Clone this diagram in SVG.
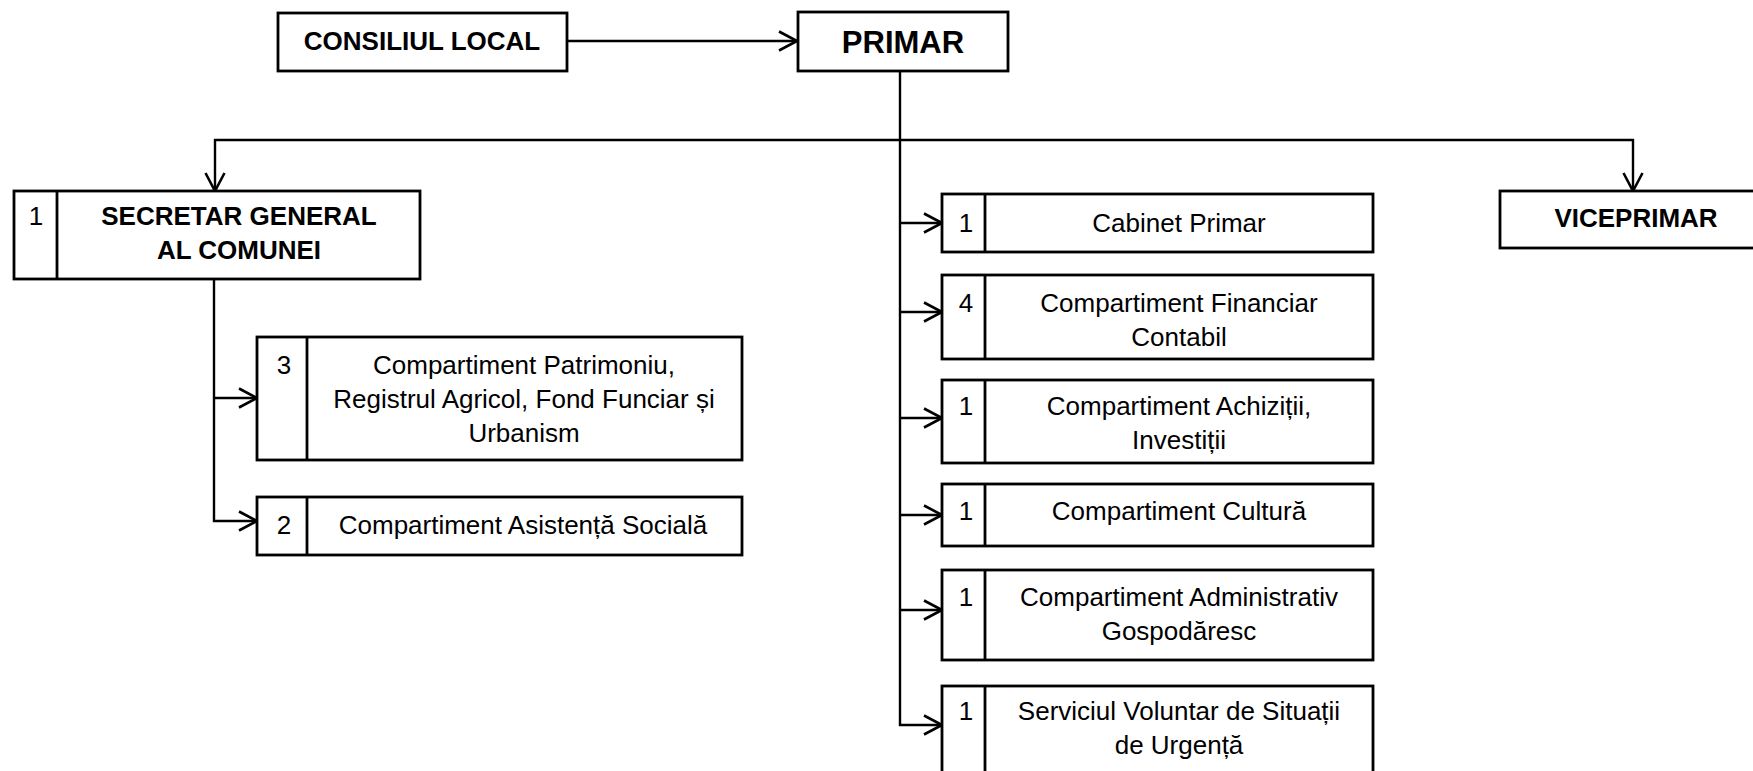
<svg xmlns="http://www.w3.org/2000/svg" width="1753" height="771" viewBox="0 0 1753 771">
<style>
.box{fill:#fff;stroke:#000;stroke-width:2.8}
.div{stroke:#000;stroke-width:2.8}
.t{font-family:"Liberation Sans",Arial,sans-serif;font-size:26px;fill:#000;text-anchor:middle}
.b{font-weight:bold}
.big{font-size:31px}
.c{fill:none;stroke:#000;stroke-width:2.4}
</style>
<defs>
<marker id="ar" viewBox="0 0 20 22" refX="19" refY="11" markerWidth="20" markerHeight="22" markerUnits="userSpaceOnUse" orient="auto">
<path d="M1,1.5 L19,11 L1,20.5" fill="none" stroke="#000" stroke-width="2.6"/>
</marker>
</defs>
<rect width="1753" height="771" fill="#fff"/>
<g id="connectors">
<path class="c" d="M567,41 H797" marker-end="url(#ar)"/>
<path class="c" d="M900,71 V725 H942" marker-end="url(#ar)"/>
<path class="c" d="M900,223 H942" marker-end="url(#ar)"/>
<path class="c" d="M900,312 H942" marker-end="url(#ar)"/>
<path class="c" d="M900,418 H942" marker-end="url(#ar)"/>
<path class="c" d="M900,515 H942" marker-end="url(#ar)"/>
<path class="c" d="M900,610 H942" marker-end="url(#ar)"/>
<path class="c" d="M900,140 H215 V191" marker-end="url(#ar)"/>
<path class="c" d="M900,140 H1633 V191" marker-end="url(#ar)"/>
<path class="c" d="M214,279 V521 H257" marker-end="url(#ar)"/>
<path class="c" d="M214,398 H257" marker-end="url(#ar)"/>
</g>
<g id="consiliul">
<rect class="box" x="278" y="13" width="289" height="58"/>
<text class="t b" x="422" y="50">CONSILIUL LOCAL</text>
</g>
<g id="primar">
<rect class="box" x="798" y="12" width="210" height="59"/>
<text class="t b big" x="903" y="53">PRIMAR</text>
</g>
<g id="secretar">
<rect class="box" x="14" y="191" width="406" height="88"/>
<line class="div" x1="57" y1="191" x2="57" y2="279"/>
<text class="t" x="36" y="225">1</text>
<text class="t b" x="239" y="225">SECRETAR GENERAL</text>
<text class="t b" x="239" y="259">AL COMUNEI</text>
</g>
<g id="viceprimar">
<rect class="box" x="1500" y="191" width="290" height="57"/>
<text class="t b" x="1636" y="227">VICEPRIMAR</text>
</g>
<g id="patrimoniu">
<rect class="box" x="257" y="337" width="485" height="123"/>
<line class="div" x1="307" y1="337" x2="307" y2="460"/>
<text class="t" x="284" y="374">3</text>
<text class="t" x="524" y="374">Compartiment Patrimoniu,</text>
<text class="t" x="524" y="408">Registrul Agricol, Fond Funciar și</text>
<text class="t" x="524" y="442">Urbanism</text>
</g>
<g id="asistenta">
<rect class="box" x="257" y="497" width="485" height="58"/>
<line class="div" x1="307" y1="497" x2="307" y2="555"/>
<text class="t" x="284" y="534">2</text>
<text class="t" x="523" y="534">Compartiment Asistență Socială</text>
</g>
<g id="cabinet">
<rect class="box" x="942" y="194" width="431" height="58"/>
<line class="div" x1="985" y1="194" x2="985" y2="252"/>
<text class="t" x="966" y="232">1</text>
<text class="t" x="1179" y="232">Cabinet Primar</text>
</g>
<g id="financiar">
<rect class="box" x="942" y="275" width="431" height="84"/>
<line class="div" x1="985" y1="275" x2="985" y2="359"/>
<text class="t" x="966" y="312">4</text>
<text class="t" x="1179" y="312">Compartiment Financiar</text>
<text class="t" x="1179" y="346">Contabil</text>
</g>
<g id="achizitii">
<rect class="box" x="942" y="380" width="431" height="83"/>
<line class="div" x1="985" y1="380" x2="985" y2="463"/>
<text class="t" x="966" y="415">1</text>
<text class="t" x="1179" y="415">Compartiment Achiziții,</text>
<text class="t" x="1179" y="449">Investiții</text>
</g>
<g id="cultura">
<rect class="box" x="942" y="484" width="431" height="62"/>
<line class="div" x1="985" y1="484" x2="985" y2="546"/>
<text class="t" x="966" y="520">1</text>
<text class="t" x="1179" y="520">Compartiment Cultură</text>
</g>
<g id="administrativ">
<rect class="box" x="942" y="570" width="431" height="90"/>
<line class="div" x1="985" y1="570" x2="985" y2="660"/>
<text class="t" x="966" y="606">1</text>
<text class="t" x="1179" y="606">Compartiment Administrativ</text>
<text class="t" x="1179" y="640">Gospodăresc</text>
</g>
<g id="serviciu">
<rect class="box" x="942" y="686" width="431" height="110"/>
<line class="div" x1="985" y1="686" x2="985" y2="796"/>
<text class="t" x="966" y="720">1</text>
<text class="t" x="1179" y="720">Serviciul Voluntar de Situații</text>
<text class="t" x="1179" y="754">de Urgență</text>
</g>
</svg>
